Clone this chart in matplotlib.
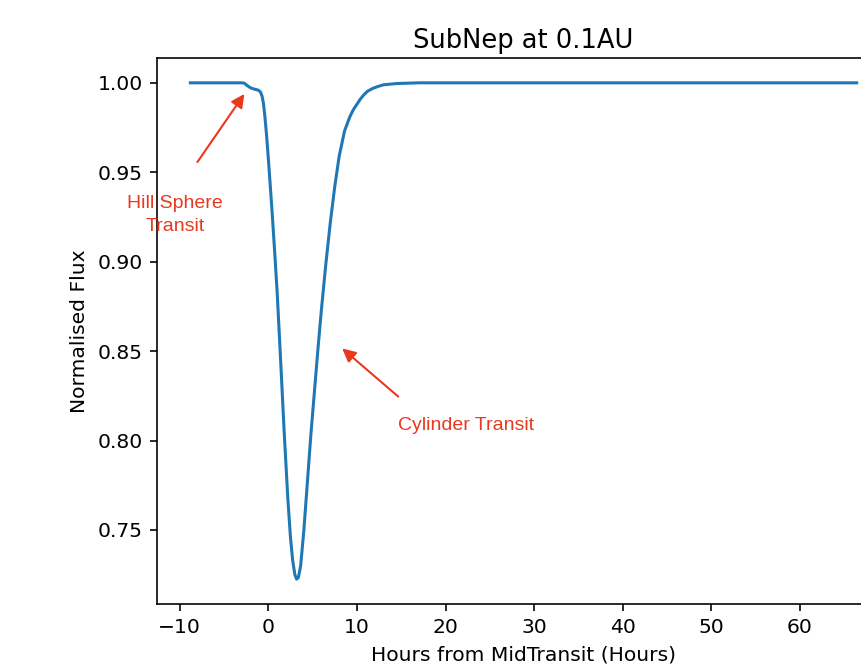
import matplotlib
matplotlib.use("Agg")
import matplotlib.pyplot as plt

# light curve (hours from mid-transit, normalised flux)
hours = [-8.8, -3.0, -2.7, -2.4, -2.0, -1.6, -1.2, -1.0, -0.85, -0.7, -0.55, -0.4, -0.2,
         0.0, 0.4, 0.7, 1.0, 1.4, 1.8, 2.2, 2.5, 2.75, 3.0, 3.2, 3.4,
         3.65, 4.0, 4.4, 4.8, 5.2, 5.6, 6.0, 6.5, 7.0, 7.5, 8.0, 8.6,
         9.2, 9.6, 10.0, 10.4, 10.8, 11.2, 11.8, 12.4, 13.0, 14.5, 17.0, 66.4]
flux = [1.0, 1.0, 0.9998, 0.9985, 0.9972, 0.9965, 0.9960, 0.9955, 0.9945, 0.9925, 0.9885, 0.982, 0.971,
        0.958, 0.930, 0.907, 0.883, 0.844, 0.804, 0.768, 0.746, 0.733, 0.725, 0.7225, 0.7235,
        0.730, 0.749, 0.776, 0.803, 0.827, 0.851, 0.8735, 0.899, 0.922, 0.942, 0.959, 0.973,
        0.981, 0.985, 0.988, 0.991, 0.9934, 0.9953, 0.9969, 0.998, 0.9989, 0.9996, 1.0, 1.0]

xticks = [-10, 0, 10, 20, 30, 40, 50, 60]

# annotations: (label, text position, arrow tail, arrow head)
hill_label = "Hill Sphere\nTransit"
hill_text = (-10.5, 0.9262)
hill_tail = (-8.0, 0.9557)
hill_head = (-2.7, 0.9938)

cyl_label = "Cylinder Transit"
cyl_text = (22.3, 0.8085)
cyl_tail = (14.66, 0.8246)
cyl_head = (8.34, 0.8515)

s = 1.46  # point scale (reference was rendered at a higher dpi)
red = "#e8391f"

fig = plt.figure(figsize=(8.62, 6.65), dpi=100)
ax = fig.add_axes([157 / 862, 61 / 665, 733 / 862, 546 / 665])

ax.plot(hours, flux, color="#1f77b4", lw=1.5 * s)
ax.set_xticks(xticks)

for spine in ax.spines.values():
    spine.set_linewidth(0.8 * s)
ax.tick_params(labelsize=10 * s, length=3.5 * s, width=0.8 * s, pad=3.5 * s)

ax.set_title("SubNep at 0.1AU", fontsize=12.7 * s, pad=5 * s)
ax.set_xlabel("Hours from MidTransit (Hours)", fontsize=10 * s, labelpad=4 * s)
ax.set_ylabel("Normalised Flux", fontsize=10 * s, labelpad=4 * s)

arrow = dict(arrowstyle="-|>", color=red, lw=1.5, mutation_scale=20,
             shrinkA=0, shrinkB=0)
ax.annotate("", xy=hill_head, xytext=hill_tail, arrowprops=arrow)
ax.annotate("", xy=cyl_head, xytext=cyl_tail, arrowprops=arrow)
ax.text(*hill_text, hill_label, color=red, fontsize=14, family="Liberation Sans",
        ha="center", va="center", linespacing=1.45)
ax.text(*cyl_text, cyl_label, color=red, fontsize=14, family="Liberation Sans",
        ha="center", va="center")

fig.savefig("out.png", dpi=100)
